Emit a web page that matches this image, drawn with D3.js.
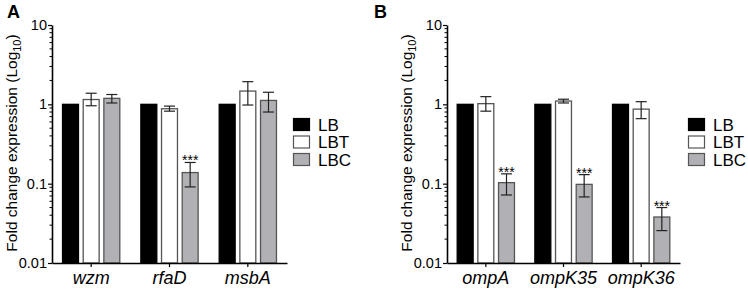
<!DOCTYPE html>
<html><head><meta charset="utf-8">
<script src="https://cdn.jsdelivr.net/npm/d3@7"></script>
<style>body{margin:0;background:#fff}svg{display:block}text{font-family:"Liberation Sans",Arial,sans-serif}</style>
</head><body><svg id="c" width="748" height="292"></svg>
<script>
const series = ["LB", "LBT", "LBC"];
const genesA = ["wzm", "rfaD", "msbA"];
const genesB = ["ompA", "ompK35", "ompK36"];
// values [LB, LBT, LBC] per gene
const valuesA = [[1, 1.15, 1.19], [1, 0.88, 0.138], [1, 1.47, 1.12]];
const errLowA = [[null, 0.96, 1.04], [null, 0.82, 0.091], [null, 0.98, 0.80]];
const errHighA = [[null, 1.38, 1.33], [null, 0.95, 0.185], [null, 1.93, 1.42]];
const starsA = [["", "", ""], ["", "", "***"], ["", "", ""]];
const valuesB = [[1, 1.02, 0.103], [1, 1.1, 0.098], [1, 0.87, 0.038]];
const errLowB = [[null, 0.82, 0.072], [null, 1.04, 0.068], [null, 0.66, 0.0256]];
const errHighB = [[null, 1.25, 0.133], [null, 1.16, 0.13], [null, 1.08, 0.050]];
const starsB = [["", "", "***"], ["", "", "***"], ["", "", "***"]];
const yTicks = [10, 1, 0.1, 0.01];
const yTickLabels = ["10", "1", "0.1", "0.01"];

const fills = {LB: "#000000", LBT: "#ffffff", LBC: "#b1b1b5"};
const strokes = {LB: "#000000", LBT: "#555555", LBC: "#555555"};
const FONT = "'Liberation Sans', Arial, sans-serif";

const svg = d3.select("#c");

function panel(opt) {
  const g = svg.append("g");
  const y = d3.scaleLog().domain([0.01, 10]).range([263, 25]);
  const x = d3.scaleBand().domain(opt.genes).range([opt.x0, opt.x1]).padding(0);
  const xs = d3.scaleBand().domain(series).range([-31, 31]).paddingInner(0.18).paddingOuter(0.09);

  opt.genes.forEach((gene, gi) => {
    const cx = x(gene) + x.bandwidth() / 2;
    series.forEach((s, si) => {
      const v = opt.values[gi][si];
      const bx = cx + xs(s);
      g.append("rect")
        .attr("x", bx + 0.5).attr("y", y(v))
        .attr("width", xs.bandwidth() - 1).attr("height", y(0.01) - y(v))
        .attr("fill", fills[s]).attr("stroke", strokes[s]).attr("stroke-width", 1.3);
      const lo = opt.lo[gi][si], hi = opt.hi[gi][si];
      if (lo != null) {
        const ex = bx + xs.bandwidth() / 2;
        g.append("line").attr("x1", ex).attr("x2", ex).attr("y1", y(lo)).attr("y2", y(hi))
          .attr("stroke", "#222").attr("stroke-width", 1.2);
        [lo, hi].forEach(e => g.append("line").attr("x1", ex - 5.5).attr("x2", ex + 5.5)
          .attr("y1", y(e)).attr("y2", y(e)).attr("stroke", "#222").attr("stroke-width", 1.2));
        if (opt.stars[gi][si]) {
          g.append("text").attr("x", ex).attr("y", y(hi) + 3).attr("text-anchor", "middle")
            .attr("font-size", 14).attr("fill", "#000").attr("font-family", FONT).text(opt.stars[gi][si]);
        }
      }
    });
  });

  // y axis
  const yAxis = d3.axisLeft(y).tickValues(yTicks).tickFormat((d, i) => yTickLabels[i]).tickSize(4).tickSizeOuter(0);
  const ya = g.append("g").attr("transform", `translate(${opt.x0},0)`).call(yAxis);
  ya.attr("font-family", null);
  ya.select(".domain").attr("stroke", "#000").attr("stroke-width", 1.6);
  ya.selectAll(".tick line").attr("stroke", "#000").attr("stroke-width", 1.2);
  ya.selectAll(".tick text").attr("font-size", 14.5).attr("fill", "#000").attr("x", -5)
    .attr("font-family", FONT);
  const minor = [];
  [0.01, 0.1, 1].forEach(d => { for (let k = 2; k <= 9; k++) minor.push(d * k); });
  g.selectAll(null).data(minor).enter().append("line")
    .attr("x1", opt.x0 - 2.5).attr("x2", opt.x0).attr("y1", d => y(d)).attr("y2", d => y(d))
    .attr("stroke", "#000").attr("stroke-width", 1);

  // x axis
  const xAxis = d3.axisBottom(x).tickSize(4).tickSizeOuter(0).tickFormat(d => d);
  const xa = g.append("g").attr("transform", `translate(0,${y(0.01)})`).call(xAxis);
  xa.attr("font-family", null);
  xa.select(".domain").attr("stroke", "#000").attr("stroke-width", 1.6);
  xa.selectAll(".tick line").attr("stroke", "#000").attr("stroke-width", 1.2);
  xa.selectAll(".tick text").attr("font-size", 18).attr("font-style", "italic").attr("fill", "#000")
    .attr("y", 8).attr("dy", "0.71em").attr("font-family", FONT);

  // y title
  const t = g.append("text").attr("transform", `translate(${opt.x0 - 35},${143}) rotate(-90)`)
    .attr("text-anchor", "middle").attr("font-size", 15.5).attr("fill", "#000").attr("font-family", FONT);
  t.append("tspan").text("Fold change expression (Log");
  t.append("tspan").attr("font-size", 11).attr("dy", 4).text("10");
  t.append("tspan").attr("dy", -4).text(")");

  // panel label
  g.append("text").attr("x", opt.labelX).attr("y", 18).attr("font-size", 18).attr("font-weight", "bold")
    .attr("fill", "#000").attr("font-family", FONT).text(opt.label);

  // legend
  const lg = g.append("g").attr("transform", `translate(${opt.legX},118)`);
  series.forEach((s, i) => {
    lg.append("rect").attr("x", 0.5).attr("y", i * 17.5 + 0.5).attr("width", 16).attr("height", 12)
      .attr("fill", fills[s]).attr("stroke", strokes[s]).attr("stroke-width", 1.2);
    lg.append("text").attr("x", 25).attr("y", i * 17.5 + 7).attr("dy", "0.35em")
      .attr("font-size", 17).attr("fill", "#000").attr("font-family", FONT).text(s);
  });
}

panel({genes: genesA, values: valuesA, lo: errLowA, hi: errHighA, stars: starsA,
  x0: 52, x1: 287, label: "A", labelX: 7, legX: 293});
panel({genes: genesB, values: valuesB, lo: errLowB, hi: errHighB, stars: starsB,
  x0: 447, x1: 680, label: "B", labelX: 374, legX: 688});
</script></body></html>
